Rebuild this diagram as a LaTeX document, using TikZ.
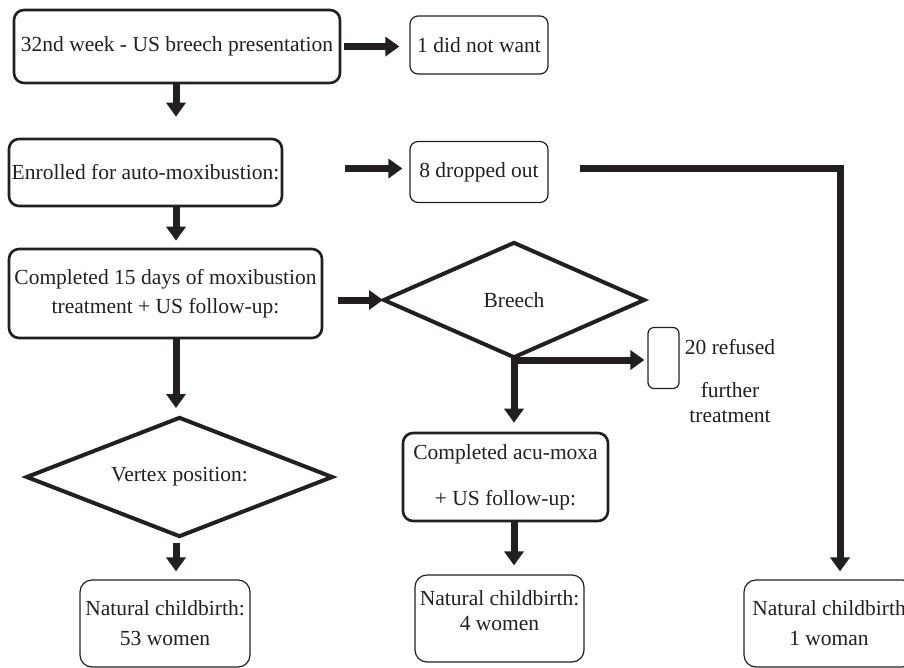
\documentclass[tikz,border=0pt]{standalone}
\usepackage{fontspec}
\setmainfont{Liberation Serif}
\usetikzlibrary{arrows.meta,shapes.geometric,calc}
\definecolor{ink}{HTML}{231F20}
\begin{document}
\begin{tikzpicture}[x=1pt,y=-1pt,
  every node/.style={font=\fontsize{21.5}{25}\selectfont, text=ink},
  mainbox/.style={draw=ink, line width=2.6pt, rounded corners=10pt, inner sep=0pt, align=center},
  thinbox/.style={draw=ink, line width=1.2pt, rounded corners=10pt, inner sep=0pt, align=center},
  dia/.style={draw=ink, diamond, line width=4pt, inner sep=0pt},
  flow/.style={draw=ink, line width=7pt, -{Triangle[width=19pt,length=14pt]}},
  txt/.style={inner sep=0pt, align=center}]
\useasboundingbox (0,0) rectangle (904,667);
\clip (0,0) rectangle (904,667);
\coordinate (colL) at (176,0);

\node[mainbox, minimum width=326pt, minimum height=73pt] (b1) at (177,46.5) {32nd week - US breech presentation};
\node[thinbox, rounded corners=8pt, minimum width=138pt, minimum height=58pt] (nw) at (479,45) {1 did not want};
\node[mainbox, minimum width=273pt, minimum height=67pt] (b2) at (145.5,172.5) {Enrolled for auto-moxibustion:};
\node[thinbox, rounded corners=8pt, minimum width=138pt, minimum height=61pt] (drop) at (479,172) {8 dropped out};
\node[mainbox, minimum width=313pt, minimum height=89pt] (b3) at (165.5,293.5) {Completed 15 days of moxibustion\\[4pt]treatment + US follow-up:};
\node[dia, shape aspect=2.26, minimum width=262pt, minimum height=116pt] (br) at (514,300) {Breech};
\node[dia, shape aspect=2.56, minimum width=307pt, minimum height=120pt] (vx) at (179.5,477) {Vertex position:};
\node[thinbox, rounded corners=6pt, minimum width=31pt, minimum height=61pt] (ref) at (663.5,358) {};
\node[txt] (t20) at (730,347) {20 refused};
\node[txt] (tfur) at (730,403) {further\\treatment};
\node[mainbox, minimum width=205pt, minimum height=88pt] (acu) at (505.5,477) {Completed acu-moxa\\[21pt]+ US follow-up:};
\node[thinbox, rounded corners=12pt, minimum width=170pt, minimum height=87pt] (n53) at (165,623.5) {Natural childbirth:\\[5pt]53 women};
\node[thinbox, rounded corners=12pt, minimum width=169pt, minimum height=87pt] (n4) at (499.5,618.5) {};
\node[txt] (t4) at (499.5,610.5) {Natural childbirth:\\4 women};
\node[thinbox, rounded corners=12pt, minimum width=170pt, minimum height=87pt] (n1) at (829,623.5) {Natural childbirth\\[5pt]1 woman};

\draw[flow] ($(b1.east)+(3,0)$) -- ($(b1.east -| nw.west)+(-10,0)$);
\draw[flow] (b1.south -| colL) -- ($(b2.north -| colL)+(0,-21)$);
\draw[flow] ($(b2.east)+(62,-4)$) -- ($(b2.east -| drop.west)+(-7,-4)$);
\draw[flow, miter limit=10] ($(drop.east)+(31,-4)$) -| ($(n1.north)+(11,-8)$);
\draw[flow] (b2.south -| colL) -- ($(b3.north -| colL)+(0,-7)$);
\draw[flow] ($(br.west -| b3.east)+(15,0)$) -- ($(br.west)+(2,0)$);
\draw[flow] (b3.south -| colL) -- ($(vx.north -| colL)+(0,-7)$);
\draw[flow] ($(vx.south -| colL)+(0,4)$) -- ($(n53.north -| colL)+(0,-8)$);
\draw[flow] ($(br.south)+(-3.5,0)$) -- ($(br.south -| ref.west)+(-3,0)$);
\draw[flow] (br.south) -- ($(br.south |- acu.north)+(0,-9)$);
\draw[flow] (br.south |- acu.south) -- ($(br.south |- n4.north)+(0,-9)$);
\end{tikzpicture}
\end{document}
